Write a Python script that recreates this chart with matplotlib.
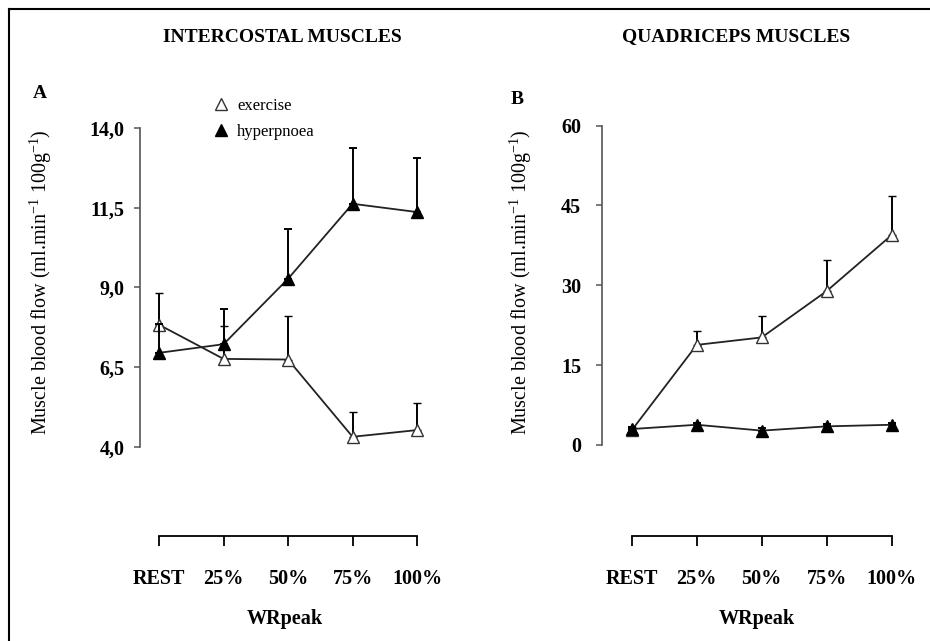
import numpy as np
import matplotlib
matplotlib.use("Agg")
import matplotlib.pyplot as plt
from matplotlib.lines import Line2D
from matplotlib.ticker import FuncFormatter

plt.rcParams['font.family'] = ['Liberation Serif', 'DejaVu Serif']
plt.rcParams['mathtext.fontset'] = 'custom'
plt.rcParams['mathtext.rm'] = 'Liberation Serif'
plt.rcParams['mathtext.default'] = 'regular'

# data
stages = ['REST', '25%', '50%', '75%', '100%']
x = [0, 1, 2, 3, 4]

# A - intercostal muscles
ic_ex = [7.83, 6.76, 6.74, 4.32, 4.53]
ic_ex_sd = [1.01, 1.04, 1.35, 0.77, 0.86]
ic_hy = [6.95, 7.22, 9.27, 11.62, 11.36]
ic_hy_sd = [0.9, 1.09, 1.57, 1.75, 1.70]
ic_ticks = [4.0, 6.5, 9.0, 11.5, 14.0]

# B - quadriceps muscles
q_ex = [2.8, 18.8, 20.2, 28.9, 39.4]
q_ex_sd = [0.5, 2.7, 4.0, 5.8, 7.3]
q_hy = [3.0, 3.8, 2.7, 3.5, 3.8]
q_hy_sd = [0.4, 0.4, 0.4, 0.4, 0.4]
q_ticks = [0, 15, 30, 45, 60]

W, H = 930, 641
fig = plt.figure(figsize=(W / 100, H / 100), dpi=100)
fig.patch.set_facecolor('white')

# frame lines at top and left
fig.add_artist(Line2D([9 / W, 1], [1 - 9 / H, 1 - 9 / H], color='black', lw=1.5))
fig.add_artist(Line2D([9 / W, 9 / W], [0, 1 - 9 / H], color='black', lw=1.5))


def px(l, b, w, h):
    return [l / W, 1 - b / H, w / W, h / H]


def panel(ax, ex, ex_sd, hy, hy_sd, ticks, fmt, xlim, drop, ylpad):
    ax.errorbar(x, ex, yerr=[np.zeros(5), ex_sd], color='#222222', lw=1.3,
                marker='^', ms=9, mfc='white', mec='#333333', mew=1.0,
                ecolor='black', elinewidth=1.4, capsize=3, capthick=1.4, zorder=3)
    ax.errorbar(x, hy, yerr=[np.zeros(5), hy_sd], color='#222222', lw=1.3,
                marker='^', ms=9, mfc='black', mec='black',
                ecolor='black', elinewidth=1.4, capsize=3, capthick=1.4, zorder=4)
    ax.set_xlim(*xlim)
    ax.set_ylim(ticks[0], ticks[-1])
    ax.set_yticks(ticks)
    ax.yaxis.set_major_formatter(FuncFormatter(fmt))
    ax.set_xticks(x)
    ax.set_xticklabels(stages)
    for s in ['top', 'right']:
        ax.spines[s].set_visible(False)
    ax.spines['left'].set_color('#555555')
    ax.spines['left'].set_linewidth(1.2)
    ax.spines['bottom'].set_position(('outward', drop))
    ax.spines['bottom'].set_bounds(0, 4)
    ax.spines['bottom'].set_linewidth(1.3)
    ax.tick_params(axis='y', length=4, width=1.1, color='#555555', pad=ylpad,
                   labelsize=14.5)
    ax.tick_params(axis='x', length=7, width=1.3, pad=17, labelsize=14.5)
    for t in ax.get_yticklabels() + ax.get_xticklabels():
        t.set_fontweight('bold')
    ax.set_xlabel('WRpeak', fontweight='bold', fontsize=14.5, labelpad=14)
    ax.patch.set_alpha(0)


axA = fig.add_axes(px(140, 447, 290, 319.2))
panel(axA, ic_ex, ic_ex_sd, ic_hy, ic_hy_sd, ic_ticks,
      lambda v, p: f'{v:.1f}'.replace('.', ','), (-0.295, 4.2), 64, 7)

axB = fig.add_axes(px(602, 445, 309, 319.5))
panel(axB, q_ex, q_ex_sd, q_hy, q_hy_sd, q_ticks,
      lambda v, p: f'{v:.0f}', (-0.46, 4.3), 65.5, 11)

ylab = 'Muscle blood flow (ml.min$^{-1}$ 100g$^{-1}$)'
fig.text(41 / W, 1 - 282 / H, ylab, rotation=90, ha='center', va='center', fontsize=14.5)
fig.text(521 / W, 1 - 282 / H, ylab, rotation=90, ha='center', va='center', fontsize=14.5)

# titles and panel letters
fig.text(282 / W, 1 - 37 / H, 'INTERCOSTAL MUSCLES', ha='center', va='center',
         fontsize=14, fontweight='bold')
fig.text(736 / W, 1 - 37 / H, 'QUADRICEPS MUSCLES', ha='center', va='center',
         fontsize=14, fontweight='bold')
fig.text(40 / W, 1 - 93 / H, 'A', ha='center', va='center', fontsize=14, fontweight='bold')
fig.text(517 / W, 1 - 99 / H, 'B', ha='center', va='center', fontsize=14, fontweight='bold')

# legend
h_ex = Line2D([], [], ls='none', marker='^', ms=9, mfc='white', mec='#333333')
h_hy = Line2D([], [], ls='none', marker='^', ms=9, mfc='black', mec='black')
fig.legend([h_ex, h_hy], ['exercise', 'hyperpnoea'], loc='upper left',
           bbox_to_anchor=(207 / W, 1 - 91 / H), frameon=False, fontsize=12,
           handlelength=0.9, handletextpad=0.5, labelspacing=0.6, borderaxespad=0)

fig.savefig('out.png', dpi=100, facecolor='white')
